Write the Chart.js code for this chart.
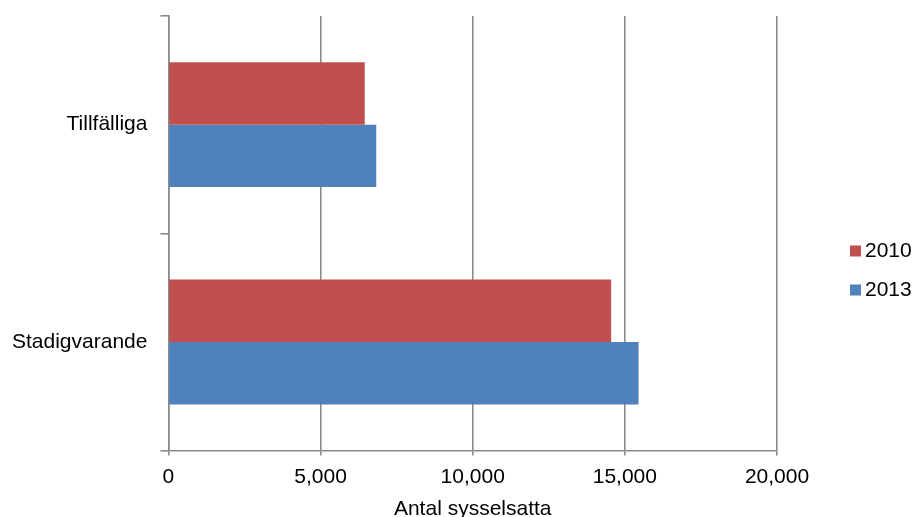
<!DOCTYPE html>
<html>
<head>
<meta charset="utf-8">
<script src="https://cdn.jsdelivr.net/npm/chart.js@4.4.1/dist/chart.umd.min.js"></script>
<style>
  html, body { margin: 0; padding: 0; background: #ffffff; }
  #wrap { width: 917px; height: 517px; }
</style>
</head>
<body>
<div id="wrap"><canvas id="c" width="917" height="517"></canvas></div>
<script>
const categories = ['Tillfälliga', 'Stadigvarande'];
const seriesNames = ['2010', '2013'];
const values2010 = [6450, 14550];
const values2013 = [6830, 15450];
const xTicks = [0, 5000, 10000, 15000, 20000];
const axisTitle = 'Antal sysselsatta';

const FONT = "'Liberation Sans', Arial, sans-serif";
const GRID = '#8a8a8a';

const sideLegend = {
  id: 'sideLegend',
  afterDraw(chart) {
    const ctx = chart.ctx;
    const o = chart.options.plugins.sideLegend;
    ctx.save();
    ctx.font = o.size + 'px ' + FONT;
    ctx.textBaseline = 'middle';
    ctx.textAlign = 'left';
    chart.data.datasets.forEach((ds, i) => {
      const cy = o.y + i * o.gap;
      ctx.fillStyle = ds.backgroundColor;
      ctx.fillRect(o.x, cy - o.box / 2, o.box, o.box);
      ctx.fillStyle = '#000000';
      ctx.fillText(ds.label, o.x + o.box + o.textGap, cy);
    });
    ctx.restore();
  }
};

new Chart(document.getElementById('c'), {
  type: 'bar',
  data: {
    labels: categories,
    datasets: [
      { label: seriesNames[0], data: values2010, backgroundColor: '#C0504D', borderWidth: 0,
        categoryPercentage: 0.575, barPercentage: 1.0 },
      { label: seriesNames[1], data: values2013, backgroundColor: '#4F81BD', borderWidth: 0,
        categoryPercentage: 0.575, barPercentage: 1.0 }
    ]
  },
  plugins: [sideLegend],
  options: {
    indexAxis: 'y',
    responsive: false,
    animation: false,
    devicePixelRatio: 1,
    layout: { padding: { left: -1, top: 16, right: 140, bottom: -2 } },
    plugins: {
      legend: { display: false },
      tooltip: { enabled: false },
      sideLegend: { x: 850, y: 251, gap: 39, box: 11, textGap: 4, size: 21 }
    },
    scales: {
      x: {
        type: 'linear',
        min: xTicks[0],
        max: xTicks[xTicks.length - 1],
        afterBuildTicks(scale) { scale.ticks = xTicks.map(v => ({ value: v })); },
        ticks: {
          color: '#000000',
          font: { family: FONT, size: 21 },
          padding: 9,
          callback: v => Number(v).toLocaleString('en-US')
        },
        grid: { color: GRID, lineWidth: 1.6, tickLength: 5, drawTicks: true },
        border: { color: GRID, width: 1.6 },
        title: {
          display: true,
          text: axisTitle,
          color: '#000000',
          font: { family: FONT, size: 21 },
          padding: { top: -2, bottom: -3 }
        }
      },
      y: {
        type: 'category',
        afterFit(scale) { scale.paddingTop = 0; scale.paddingBottom = 0; },
        ticks: {
          color: '#000000',
          font: { family: FONT, size: 21 },
          padding: 13
        },
        grid: { color: GRID, lineWidth: 1.6, drawOnChartArea: false, drawTicks: true, tickLength: 8, offset: true },
        border: { color: GRID, width: 1.6 }
      }
    }
  }
});
</script>
</body>
</html>
